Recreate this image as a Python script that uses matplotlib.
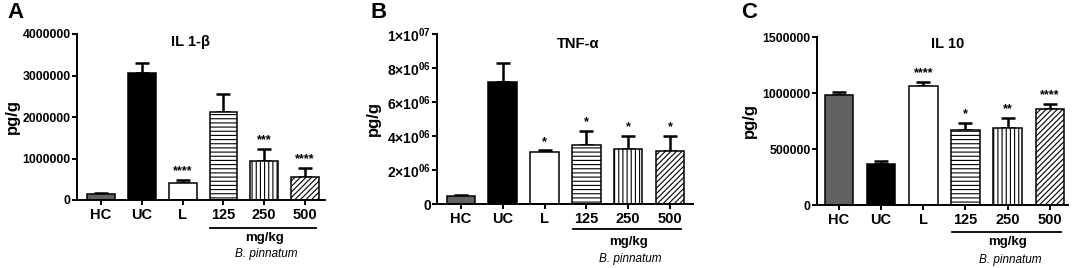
import numpy as np
import matplotlib
matplotlib.use("Agg")
import matplotlib.pyplot as plt
from matplotlib.transforms import blended_transform_factory

plt.rcParams['font.family'] = ['Liberation Sans', 'DejaVu Sans']
plt.rcParams['mathtext.fontset'] = 'custom'
plt.rcParams['mathtext.rm'] = 'Liberation Sans'
plt.rcParams['mathtext.bf'] = 'Liberation Sans:bold'
plt.rcParams['hatch.linewidth'] = 0.8

### Data
groups = ["HC", "UC", "L", "125", "250", "500"]

il1b_mean = [150000, 3050000, 400000, 2120000, 930000, 560000]
il1b_err = [30000, 250000, 80000, 440000, 290000, 210000]
il1b_sig = ["", "", "****", "", "***", "****"]

tnf_mean = [450000, 7200000, 3050000, 3500000, 3250000, 3100000]
tnf_err = [100000, 1100000, 100000, 800000, 750000, 900000]
tnf_sig = ["", "", "*", "*", "*", "*"]

il10_mean = [980000, 365000, 1060000, 670000, 690000, 855000]
il10_err = [30000, 30000, 35000, 65000, 90000, 45000]
il10_sig = ["", "", "****", "*", "**", "****"]

### Style per bar
face = ["#626262", "black", "white", "white", "white", "white"]
hatches = [None, None, None, "----", "||||", "//////"]

W, H = 10.72, 2.68
fig = plt.figure(figsize=(W, H), dpi=100)


def panel(rect, means, errs, sigs, title, title_pos, ymax, yticks, ylabels,
          letter, letter_pos, xlim, offs, ytsize=8.8):
    ax = fig.add_axes(rect)
    x = np.arange(len(groups))
    ax.errorbar(x, means, yerr=[np.zeros(len(errs)), errs], fmt='none',
                ecolor='black', elinewidth=1.8, capsize=5, capthick=1.8, zorder=1)
    ax.bar(x, means, width=0.68, color=face, edgecolor='black', linewidth=1.1,
           hatch=hatches, zorder=2)
    for xi, m, e, s in zip(x, means, errs, sigs):
        if s:
            ax.annotate(s, (xi, m + e), xytext=(0, 2), textcoords='offset points',
                        ha='center', va='bottom', fontsize=9, fontweight='bold')
    ax.set_xlim(*xlim)
    ax.set_ylim(0, ymax)
    ax.set_yticks(yticks)
    ax.set_yticklabels(ylabels, fontsize=ytsize, fontweight='bold')
    ax.set_xticks(x)
    ax.set_xticklabels(groups, fontsize=10.5, fontweight='bold')
    for s in ['top', 'right']:
        ax.spines[s].set_visible(False)
    for s in ['left', 'bottom']:
        ax.spines[s].set_linewidth(1.4)
    ax.tick_params(width=1.4, length=3.5)
    ax.tick_params(axis='y', pad=1)
    ax.tick_params(axis='x', pad=2)
    ax.set_ylabel("pg/g", fontsize=12, fontweight='bold', labelpad=offs[3])
    ax.text(title_pos[0], title_pos[1], title, transform=ax.transAxes,
            ha='center', va='center', fontsize=10.5, fontweight='bold')

    # group bracket under the extract doses
    hpx = rect[3] * H * 100
    tr = blended_transform_factory(ax.transData, ax.transAxes)
    yl = -offs[0] / hpx
    ax.plot([2.68, 5.26], [yl, yl], color='black', lw=1.3, transform=tr, clip_on=False)
    ax.text(4.0, -offs[1] / hpx, "mg/kg", transform=tr, ha='center', va='center',
            fontsize=9.5, fontweight='bold')
    ax.text(4.05, -offs[2] / hpx, "B. pinnatum", transform=tr, ha='center', va='center',
            fontsize=8.5, style='italic')
    fig.text(letter_pos[0], letter_pos[1], letter, fontsize=16, fontweight='bold',
             ha='left', va='top')
    return ax


panel([77 / 1072, 1 - 200 / 268, 248 / 1072, 166 / 268], il1b_mean, il1b_err, il1b_sig,
      "IL 1-β", (0.456, 0.95), 4000000,
      [0, 1000000, 2000000, 3000000, 4000000],
      ["0", "1000000", "2000000", "3000000", "4000000"],
      "A", (7 / 1072, 1 - 2 / 268), (-0.59, 5.49), (28, 38, 54, 2))

panel([437 / 1072, 1 - 204 / 268, 256 / 1072, 170 / 268], tnf_mean, tnf_err, tnf_sig,
      "TNF-α", (0.55, 0.94), 10000000,
      [0, 2e6, 4e6, 6e6, 8e6, 1e7],
      ["0", r"$\mathbf{2{\times}10^{06}}$", r"$\mathbf{4{\times}10^{06}}$",
       r"$\mathbf{6{\times}10^{06}}$", r"$\mathbf{8{\times}10^{06}}$",
       r"$\mathbf{1{\times}10^{07}}$"],
      "B", (371 / 1072, 1 - 2 / 268), (-0.57, 5.55), (25, 38, 55, 4), ytsize=10)

panel([817 / 1072, 1 - 205 / 268, 251 / 1072, 168 / 268], il10_mean, il10_err, il10_sig,
      "IL 10", (0.52, 0.96), 1500000,
      [0, 500000, 1000000, 1500000],
      ["0", "500000", "1000000", "1500000"],
      "C", (741 / 1072, 1 - 2 / 268), (-0.52, 5.43), (27, 37, 55, 4))

fig.savefig("out.png", dpi=100)
